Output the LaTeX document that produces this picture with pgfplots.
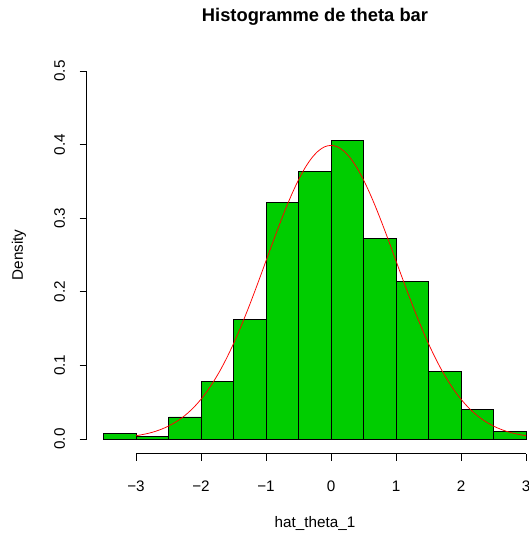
\documentclass[border=0pt]{standalone}
\usepackage{pgfplots}
\pgfplotsset{compat=1.18}
\usepackage{fontspec}
\setmainfont{Liberation Sans}
\definecolor{rgreen}{HTML}{00CD00}
\begin{document}
\begin{tikzpicture}[x=1bp,y=1bp]
\useasboundingbox (0,0) rectangle (529,537);
\begin{axis}[at={(86.6bp,83.3bp)}, anchor=south west, scale only axis,
  width=456.3bp, height=397.4bp,
  xmin=-3.76, xmax=3.26, ymin=-0.02, ymax=0.52,
  axis line style={draw=none},
  xtick={-3,-2,-1,0,1,2,3}, xticklabels={−3,−2,−1,0,1,2,3},
  ytick={0,0.1,0.2,0.3,0.4,0.5}, yticklabels={0.0,0.1,0.2,0.3,0.4,0.5},
  xtick pos=bottom, ytick pos=left, tick align=outside, major tick length=7bp,
  tick style={black, line width=0.75bp},
  ticklabel style={font=\fontsize{15.3}{17}\selectfont},
  xticklabel style={yshift=-17bp},
  yticklabel style={xshift=-11bp, rotate=90, anchor=south},
  clip=false]
\addplot[ybar interval, fill=rgreen, draw=black, line width=0.75bp] coordinates {
(-3.5,0.008) (-3.0,0.004) (-2.5,0.030) (-2.0,0.078) (-1.5,0.162) (-1.0,0.322)
(-0.5,0.364) (0.0,0.406) (0.5,0.272) (1.0,0.214) (1.5,0.092) (2.0,0.040)
(2.5,0.010) (3.0,0.010)};
\addplot[red, line width=0.75bp, smooth] coordinates {
(-3.0,0.0044) (-2.9,0.0060) (-2.8,0.0079) (-2.7,0.0104) (-2.6,0.0136) (-2.5,0.0175)
(-2.4,0.0224) (-2.3,0.0283) (-2.2,0.0355) (-2.1,0.0440) (-2.0,0.0540) (-1.9,0.0656)
(-1.8,0.0790) (-1.7,0.0940) (-1.6,0.1109) (-1.5,0.1295) (-1.4,0.1497) (-1.3,0.1714)
(-1.2,0.1942) (-1.1,0.2179) (-1.0,0.2420) (-0.9,0.2661) (-0.8,0.2897) (-0.7,0.3123)
(-0.6,0.3332) (-0.5,0.3521) (-0.4,0.3683) (-0.3,0.3814) (-0.2,0.3910) (-0.1,0.3970)
(0.0,0.3989) (0.1,0.3970) (0.2,0.3910) (0.3,0.3814) (0.4,0.3683) (0.5,0.3521)
(0.6,0.3332) (0.7,0.3123) (0.8,0.2897) (0.9,0.2661) (1.0,0.2420) (1.1,0.2179)
(1.2,0.1942) (1.3,0.1714) (1.4,0.1497) (1.5,0.1295) (1.6,0.1109) (1.7,0.0940)
(1.8,0.0790) (1.9,0.0656) (2.0,0.0540) (2.1,0.0440) (2.2,0.0355) (2.3,0.0283)
(2.4,0.0224) (2.5,0.0175) (2.6,0.0136) (2.7,0.0104) (2.8,0.0079) (2.9,0.0060)
(3.0,0.0044)};
\draw[black, line width=0.75bp] (axis cs:-3.76,0) -- (axis cs:-3.76,0.5);
\draw[black, line width=0.75bp] (axis cs:-3,-0.02) -- (axis cs:3,-0.02);
\end{axis}
\node[font=\fontsize{18.4}{20}\selectfont\bfseries] at (315,520) {Histogramme de theta bar};
\node[font=\fontsize{15.3}{17}\selectfont] at (315,14) {hat\_theta\_1};
\node[font=\fontsize{15.3}{17}\selectfont, rotate=90] at (19,282) {Density};
\end{tikzpicture}
\end{document}
